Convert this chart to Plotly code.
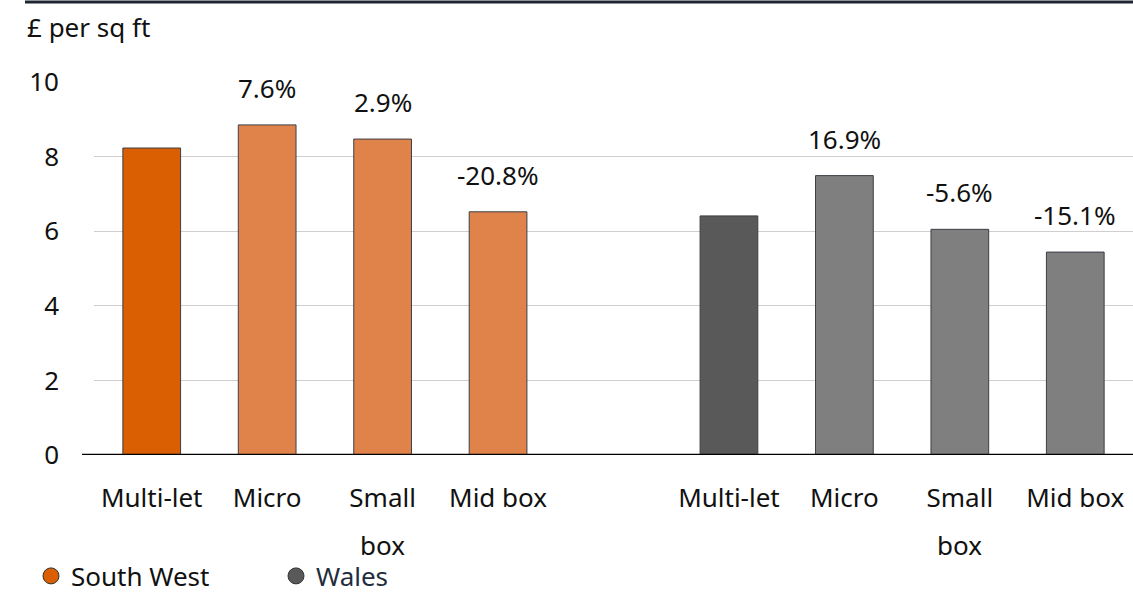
import plotly.graph_objects as go

categories = ["Multi-let", "Micro", "Small box", "Mid box"]
tick_first = ["Multi-let", "Micro", "Small", "Mid box"]
south_west = [8.23, 8.85, 8.47, 6.52]
wales = [6.41, 7.49, 6.05, 5.44]
sw_labels = ["", "7.6%", "2.9%", "-20.8%"]
wales_labels = ["", "16.9%", "-5.6%", "-15.1%"]

sw_x = [0, 1, 2, 3]
wa_x = [5, 6, 7, 8]

sw_colors = ["#D95F02", "#E0834B", "#E0834B", "#E0834B"]
wa_colors = ["#595959", "#7F7F7F", "#7F7F7F", "#7F7F7F"]
outline = "#3A3F45"
FONT = "Noto Sans"
FS = 26

fig = go.Figure()
fig.add_trace(go.Bar(x=sw_x, y=south_west, width=0.5, marker=dict(color=sw_colors, line=dict(color=outline, width=1)),
                     showlegend=False, hoverinfo="skip"))
fig.add_trace(go.Bar(x=wa_x, y=wales, width=0.5, marker=dict(color=wa_colors, line=dict(color=outline, width=1)),
                     showlegend=False, hoverinfo="skip"))
# legend entries
fig.add_trace(go.Scatter(x=[None], y=[None], mode="markers", name="South West",
                         marker=dict(symbol="circle", size=18, color="#D95F02", line=dict(color="#333", width=1))))
fig.add_trace(go.Scatter(x=[None], y=[None], mode="markers", name="<span style='color:#1F2D3D'>Wales</span>",
                         marker=dict(symbol="circle", size=18, color="#595959", line=dict(color="#333", width=1))))

annotations = []
for xs, ys, labs in [(sw_x, south_west, sw_labels), (wa_x, wales, wales_labels)]:
    for xv, yv, lab in zip(xs, ys, labs):
        if lab:
            annotations.append(dict(x=xv, y=yv, text=lab, showarrow=False, yanchor="bottom", yshift=17,
                                    font=dict(family=FONT, size=FS, color="#111")))
# second line of "Small box"
for xv in [2, 7]:
    annotations.append(dict(x=xv, y=0, xref="x", yref="y", text="box", showarrow=False, yanchor="middle",
                            yshift=-90, font=dict(family=FONT, size=FS, color="#111")))
annotations.append(dict(x=(25 - 94) / 1039, xref="paper", y=(455 - 27) / 373, yref="paper", text="£ per sq ft",
                        showarrow=False, xanchor="left", yanchor="middle",
                        font=dict(family=FONT, size=FS, color="#111")))

fig.update_layout(
    width=1133, height=593,
    margin=dict(l=94, r=0, t=82, b=138, autoexpand=False),
    paper_bgcolor="white", plot_bgcolor="white",
    font=dict(family=FONT, size=FS, color="#111"),
    xaxis=dict(range=[-0.5, 8.5], tickmode="array", tickvals=sw_x + wa_x, ticktext=tick_first + tick_first,
               showgrid=False, zeroline=False, showline=False, ticks="", ticklabelstandoff=25,
               automargin=False, tickfont=dict(family=FONT, size=FS, color="#111")),
    yaxis=dict(range=[0, 10], tickvals=[0, 2, 4, 6, 8, 10], showgrid=True, gridcolor="#CFCFCF", gridwidth=1,
               zeroline=False, showline=False, ticks="", ticklabelstandoff=34, automargin=False,
               tickfont=dict(family=FONT, size=FS, color="#111")),
    showlegend=True,
    legend=dict(orientation="h", xref="container", yref="container", x=31 / 1133, xanchor="left",
                y=1 - 576 / 593, yanchor="middle",
                font=dict(family=FONT, size=FS, color="#111"), entrywidth=200, entrywidthmode="pixels",
                itemsizing="trace", bgcolor="rgba(0,0,0,0)"),
    annotations=annotations,
    shapes=[
        dict(type="line", xref="paper", yref="y", x0=(82 - 94) / 1039, x1=1, y0=0, y1=0,
             line=dict(color="#000", width=2.5)),
        dict(type="line", xref="paper", yref="paper", x0=(25 - 94) / 1039, x1=1, y0=(455 - 2) / 373,
             y1=(455 - 2) / 373, line=dict(color="#1E2530", width=3)),
    ],
)

fig.write_html("out.html", config={"displayModeBar": False},
               post_script="document.body.style.margin='0px';document.body.style.overflow='hidden';")
